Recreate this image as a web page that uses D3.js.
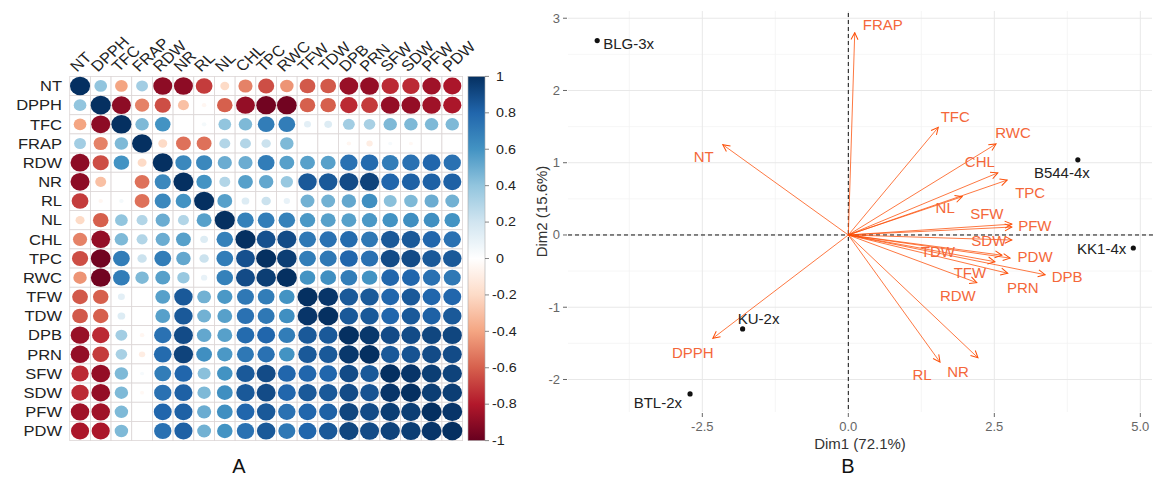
<!DOCTYPE html>
<html><head><meta charset="utf-8">
<script src="https://cdn.jsdelivr.net/npm/d3@7"></script>
<style>body{margin:0;background:#fff}svg{display:block}text{font-family:"Liberation Sans",Arial,sans-serif}</style>
</head><body><svg id="c" width="1156" height="482"></svg>
<script>
// ---------- DATA ----------
const corrVars = ["NT","DPPH","TFC","FRAP","RDW","NR","RL","NL","CHL","TPC","RWC","TFW","TDW","DPB","PRN","SFW","SDW","PFW","PDW"];
const corrRows = [
 [1,0.40,-0.40,0.35,-0.90,-0.90,-0.70,-0.20,-0.50,-0.65,-0.45,-0.62,-0.62,-0.87,-0.88,-0.75,-0.75,-0.85,-0.82],
 [0.40,1,-0.90,-0.50,-0.65,-0.30,-0.05,-0.60,-0.88,-0.97,-0.97,-0.60,-0.60,-0.75,-0.70,-0.88,-0.88,-0.85,-0.82],
 [-0.40,-0.90,1,0.45,0.60,0.00,0.05,0.40,0.45,0.70,0.70,0.12,0.15,0.35,0.33,0.45,0.45,0.45,0.45],
 [0.35,-0.50,0.45,1,-0.20,-0.55,-0.55,0.30,0.30,0.22,0.45,0.00,0.00,-0.05,-0.10,0.04,-0.04,0.00,0.00],
 [-0.90,-0.65,0.60,-0.20,1,0.65,0.65,0.50,0.50,0.70,0.55,0.55,0.55,0.75,0.78,0.70,0.75,0.80,0.75],
 [-0.90,-0.30,0.00,-0.55,0.65,1,0.60,0.30,0.55,0.52,0.38,0.85,0.85,0.90,0.93,0.80,0.82,0.82,0.82],
 [-0.70,-0.05,0.05,-0.55,0.65,0.60,1,0.55,0.15,0.22,0.10,0.48,0.48,0.52,0.62,0.42,0.45,0.50,0.48],
 [-0.20,-0.60,0.40,0.30,0.50,0.30,0.55,1,0.68,0.70,0.68,0.58,0.55,0.55,0.58,0.60,0.62,0.62,0.60],
 [-0.50,-0.88,0.45,0.30,0.50,0.55,0.15,0.68,1,0.88,0.90,0.72,0.75,0.78,0.72,0.85,0.85,0.80,0.75],
 [-0.65,-0.97,0.70,0.22,0.70,0.52,0.22,0.70,0.88,1,0.95,0.70,0.72,0.80,0.75,0.90,0.90,0.85,0.85],
 [-0.45,-0.97,0.70,0.45,0.55,0.38,0.10,0.68,0.90,0.95,1,0.60,0.62,0.70,0.60,0.80,0.80,0.75,0.72],
 [-0.62,-0.60,0.12,0.00,0.55,0.85,0.48,0.58,0.72,0.70,0.60,1,0.98,0.85,0.85,0.80,0.85,0.80,0.80],
 [-0.62,-0.60,0.15,0.00,0.55,0.85,0.48,0.55,0.75,0.72,0.62,0.98,1,0.85,0.85,0.80,0.85,0.82,0.85],
 [-0.87,-0.75,0.35,-0.05,0.75,0.90,0.52,0.55,0.78,0.80,0.70,0.85,0.85,1,0.97,0.90,0.90,0.92,0.92],
 [-0.88,-0.70,0.33,-0.10,0.78,0.93,0.62,0.58,0.72,0.75,0.60,0.85,0.85,0.97,1,0.85,0.87,0.90,0.90],
 [-0.75,-0.88,0.45,0.04,0.70,0.80,0.42,0.60,0.85,0.90,0.80,0.80,0.80,0.90,0.85,1,0.98,0.95,0.93],
 [-0.75,-0.88,0.45,-0.04,0.75,0.82,0.45,0.62,0.85,0.90,0.80,0.85,0.85,0.90,0.87,0.98,1,0.95,0.95],
 [-0.85,-0.85,0.45,0.00,0.80,0.82,0.50,0.62,0.80,0.85,0.75,0.80,0.82,0.92,0.90,0.95,0.95,1,0.98],
 [-0.82,-0.82,0.45,0.00,0.75,0.82,0.48,0.60,0.75,0.85,0.72,0.80,0.85,0.92,0.90,0.93,0.95,0.98,1]
];
const colorbarTicks = [1,0.8,0.6,0.4,0.2,0,-0.2,-0.4,-0.6,-0.8,-1];
const colorbarLabels = ["1","0.8","0.6","0.4","0.2","0","-0.2","-0.4","-0.6","-0.8","-1"];

const pcaVars = ["FRAP","TFC","RWC","CHL","TPC","NL","SFW","PFW","SDW","TDW","PDW","DPB","TFW","PRN","RDW","RL","NR","NT","DPPH"];
const pcaDim1 = [0.11,1.54,2.53,2.56,2.72,1.95,2.80,2.80,2.80,2.63,2.77,3.37,2.51,2.73,2.20,1.57,2.22,-2.15,-2.32];
const pcaDim2 = [2.80,1.49,1.26,0.86,0.76,0.53,0.15,0.11,-0.07,-0.28,-0.32,-0.55,-0.37,-0.53,-0.66,-1.76,-1.70,1.25,-1.43];

const indNames = ["BLG-3x","B544-4x","KK1-4x","KU-2x","BTL-2x"];
const indDim1 = [-4.30,3.93,4.88,-1.81,-2.71];
const indDim2 = [2.69,1.04,-0.18,-1.30,-2.20];

const xTicks = [-2.5,0,2.5,5];
const xTickLabels = ["-2.5","0.0","2.5","5.0"];
const yTicks = [-2,-1,0,1,2,3];
const xMinor = [-3.75,-1.25,1.25,3.75];
const yMinor = [-1.5,-0.5,0.5,1.5,2.5];

// ---------- LAYOUT (not data) ----------
const varLabelNudge = {FRAP:[28,-8],TFC:[17,-11],RWC:[17,-11],CHL:[-18,-11],TPC:[23,12],NL:[-17,11],
  SFW:[-25,-11],PFW:[23,-2],SDW:[-23,0],TDW:[-64,-4],PDW:[25,-2],DPB:[22,2],TFW:[-25,11],PRN:[15,14],
  RDW:[-19,13],RL:[-18,12],NR:[-20,14],NT:[-19,12],DPPH:[-20,14]};
const indLabelNudge = {"BLG-3x":[6,3,"start"],"B544-4x":[-16,13,"middle"],"KK1-4x":[-7,1,"end"],"KU-2x":[16,-10,"middle"],"BTL-2x":[-8,9,"end"]};

const svg = d3.select("#c");
const SX = 1.1; // horizontal text stretch of the left panel

// ---------- PANEL A: correlation plot ----------
const gx = d3.scaleBand().domain(corrVars).range([69.7,462.6]);
const gy = d3.scaleBand().domain(corrVars).range([76.4,440.6]);
const colStops = ["#67001F","#B2182B","#D6604D","#F4A582","#FDDBC7","#FFFFFF","#D1E5F0","#92C5DE","#4393C3","#2166AC","#053061"];
const color = d3.scaleLinear().domain(d3.range(11).map(i=>-1+i*0.2)).range(colStops).interpolate(d3.interpolateRgb);

const A = svg.append("g");
const cells = [];
corrRows.forEach((row,i)=>row.forEach((v,j)=>cells.push({r:corrVars[i],c:corrVars[j],v})));
A.selectAll("rect.cell").data(cells).join("rect")
  .attr("x",d=>gx(d.c)).attr("y",d=>gy(d.r))
  .attr("width",gx.bandwidth()).attr("height",gy.bandwidth())
  .attr("fill","#fff").attr("stroke","#dcd6d6").attr("stroke-width",0.8);
A.selectAll("ellipse").data(cells).join("ellipse")
  .attr("cx",d=>gx(d.c)+gx.bandwidth()/2).attr("cy",d=>gy(d.r)+gy.bandwidth()/2)
  .attr("rx",d=>Math.sqrt(Math.abs(d.v))*gx.bandwidth()*0.485)
  .attr("ry",d=>Math.sqrt(Math.abs(d.v))*gy.bandwidth()*0.485)
  .attr("fill",d=>color(d.v));

// row labels
A.selectAll("text.rl").data(corrVars).join("text")
  .attr("transform",d=>`translate(62,${gy(d)+gy.bandwidth()/2}) scale(${SX},1)`)
  .attr("text-anchor","end").attr("dominant-baseline","central")
  .attr("font-size",15).attr("fill","#222").text(d=>d);
// column labels
A.selectAll("text.cl").data(corrVars).join("text")
  .attr("transform",d=>`translate(${gx(d)+gx.bandwidth()/2-3},${76.4-4}) scale(${SX},1) rotate(-45)`)
  .attr("text-anchor","start")
  .attr("font-size",15).attr("fill","#222").text(d=>d);

// colorbar
const cb = d3.scaleLinear().domain([-1,1]).range([440.6,76.4]);
const defs = svg.append("defs");
const grad = defs.append("linearGradient").attr("id","cbg").attr("x1",0).attr("y1",1).attr("x2",0).attr("y2",0);
colStops.forEach((c,i)=>grad.append("stop").attr("offset",i/10).attr("stop-color",c));
A.append("rect").attr("x",468).attr("y",cb(1)).attr("width",17).attr("height",cb(-1)-cb(1))
  .attr("fill","url(#cbg)").attr("stroke","#aaa").attr("stroke-width",0.6);
A.selectAll("line.cbt").data(colorbarTicks).join("line")
  .attr("x1",485).attr("x2",489).attr("y1",d=>cb(d)).attr("y2",d=>cb(d)).attr("stroke","#555").attr("stroke-width",0.7);
A.selectAll("text.cbl").data(colorbarTicks).join("text")
  .attr("transform",(d,i)=>`translate(${colorbarLabels[i].startsWith("-")?492:496},${cb(d)}) scale(${SX},1)`)
  .attr("dominant-baseline","central").attr("font-size",13).attr("fill","#222")
  .text((d,i)=>colorbarLabels[i]);

svg.append("text").attr("x",239).attr("y",473).attr("text-anchor","middle").attr("font-size",20).attr("fill","#111").text("A");

// ---------- PANEL B: PCA biplot ----------
const B = svg.append("g");
const x = d3.scaleLinear().domain([-4.8,5.2]).range([568,1152]);
const y = d3.scaleLinear().domain([-2.45,3.1]).range([412,11]);
const [px0,px1] = x.range(), [py0,py1] = y.range();

B.selectAll("line.xm").data(xMinor).join("line").attr("x1",d=>x(d)).attr("x2",d=>x(d)).attr("y1",py1).attr("y2",py0).attr("stroke","#f2f2f2").attr("stroke-width",0.7);
B.selectAll("line.ym").data(yMinor).join("line").attr("y1",d=>y(d)).attr("y2",d=>y(d)).attr("x1",px0).attr("x2",px1).attr("stroke","#f2f2f2").attr("stroke-width",0.7);
B.selectAll("line.xg").data(xTicks).join("line").attr("x1",d=>x(d)).attr("x2",d=>x(d)).attr("y1",py1).attr("y2",py0).attr("stroke","#e8e8e8").attr("stroke-width",1);
B.selectAll("line.yg").data(yTicks).join("line").attr("y1",d=>y(d)).attr("y2",d=>y(d)).attr("x1",px0).attr("x2",px1).attr("stroke","#e8e8e8").attr("stroke-width",1);

// axes ticks
B.selectAll("line.xt").data(xTicks).join("line").attr("x1",d=>x(d)).attr("x2",d=>x(d)).attr("y1",py0+1).attr("y2",py0+5).attr("stroke","#666");
B.selectAll("text.xt").data(xTicks).join("text").attr("x",d=>x(d)).attr("y",py0+14).attr("text-anchor","middle")
  .attr("dominant-baseline","central").attr("font-size",13).attr("fill","#666").text((d,i)=>xTickLabels[i]);
B.selectAll("line.yt").data(yTicks).join("line").attr("x1",px0-5).attr("x2",px0-1).attr("y1",d=>y(d)).attr("y2",d=>y(d)).attr("stroke","#666");
B.selectAll("text.yt").data(yTicks).join("text").attr("x",px0-8).attr("y",d=>y(d)).attr("text-anchor","end")
  .attr("dominant-baseline","central").attr("font-size",13).attr("fill","#666").text(d=>d);

B.append("text").attr("x",(px0+px1)/2).attr("y",443).attr("text-anchor","middle").attr("dominant-baseline","central")
  .attr("font-size",15).attr("fill","#333").text("Dim1 (72.1%)");
B.append("text").attr("transform",`translate(541,${(py0+py1)/2}) rotate(-90)`).attr("text-anchor","middle").attr("dominant-baseline","central")
  .attr("font-size",15).attr("fill","#333").text("Dim2 (15.6%)");

// dashed zero lines
B.append("line").attr("x1",px0).attr("x2",1156).attr("y1",y(0)).attr("y2",y(0)).attr("stroke","#111").attr("stroke-width",1).attr("stroke-dasharray","4,3");
B.append("line").attr("x1",x(0)).attr("x2",x(0)).attr("y1",py1+2).attr("y2",py0).attr("stroke","#111").attr("stroke-width",1).attr("stroke-dasharray","4,3");

// arrows
const varCol = "#FC4E07";
defs.append("marker").attr("id","ah").attr("viewBox","-9 -5 10 10").attr("refX",0).attr("refY",0)
  .attr("markerWidth",10).attr("markerHeight",10).attr("markerUnits","userSpaceOnUse").attr("orient","auto")
  .append("path").attr("d","M-7,-3.5L0,0L-7,3.5").attr("fill","none").attr("stroke",varCol).attr("stroke-width",1);
const vars = pcaVars.map((n,i)=>({n,x:pcaDim1[i],y:pcaDim2[i]}));
B.selectAll("line.arr").data(vars).join("line")
  .attr("x1",x(0)).attr("y1",y(0)).attr("x2",d=>x(d.x)).attr("y2",d=>y(d.y))
  .attr("stroke",varCol).attr("stroke-width",0.9).attr("stroke-opacity",0.85).attr("marker-end","url(#ah)");
B.selectAll("text.vl").data(vars).join("text")
  .attr("x",d=>x(d.x)+varLabelNudge[d.n][0]).attr("y",d=>y(d.y)+varLabelNudge[d.n][1])
  .attr("text-anchor","middle").attr("dominant-baseline","central").attr("font-size",15)
  .attr("fill","#F4673A").text(d=>d.n);

// individuals
const inds = indNames.map((n,i)=>({n,x:indDim1[i],y:indDim2[i]}));
B.selectAll("circle.ind").data(inds).join("circle").attr("cx",d=>x(d.x)).attr("cy",d=>y(d.y)).attr("r",2.6).attr("fill","#111");
B.selectAll("text.il").data(inds).join("text")
  .attr("x",d=>x(d.x)+indLabelNudge[d.n][0]).attr("y",d=>y(d.y)+indLabelNudge[d.n][1])
  .attr("text-anchor",d=>indLabelNudge[d.n][2]).attr("dominant-baseline","central").attr("font-size",15)
  .attr("fill","#222").text(d=>d.n);

svg.append("text").attr("x",848).attr("y",473).attr("text-anchor","middle").attr("font-size",20).attr("fill","#111").text("B");
</script></body></html>
